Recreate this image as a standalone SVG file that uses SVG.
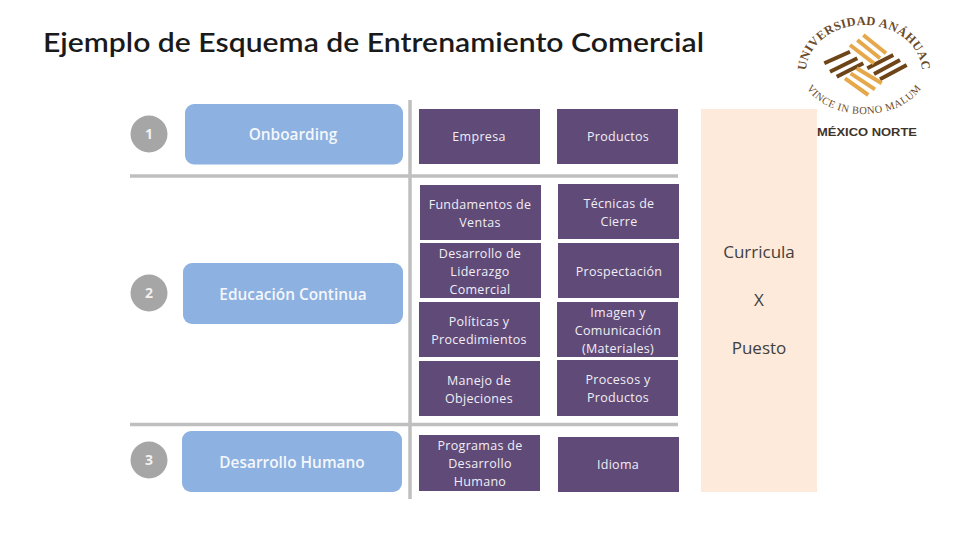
<svg xmlns="http://www.w3.org/2000/svg" width="960" height="540" viewBox="0 0 960 540">
<style>
text{font-family:"Open Sans","Liberation Sans",sans-serif}
.t{font-size:12.5px;fill:#f1eef5;text-anchor:middle;letter-spacing:.3px}
.b{font-size:15.400px;font-weight:600;fill:#f4f7fb;text-anchor:middle}
.n{font-size:14px;font-weight:700;fill:#f2f2f2;text-anchor:middle}
.p{fill:#5f4a78}.bl{fill:#8db1e0}.c{fill:#a6a6a6}
.l{stroke:#bfbfbf;stroke-width:3.500;fill:none}
.cu{font-size:17px;fill:#404040;text-anchor:middle}
.ring{font-family:"Liberation Serif",serif;fill:#6b4a2a;text-anchor:middle}
.br{stroke:#6e4518;stroke-width:4;fill:none}
.go{stroke:#e5a94b;stroke-width:4;fill:none}
</style>
<defs>
<path id="top" d="M806 72A58 47 0 1 1 922 72"/>
<path id="bot" d="M801 70A63 44 0 0 0 927 70"/>
</defs>
<text x="43" y="52" style="font-family:'Lato','Open Sans',sans-serif;font-size:27px;font-weight:600;fill:#1a1a1a" textLength="661" lengthAdjust="spacingAndGlyphs">Ejemplo de Esquema de Entrenamiento Comercial</text>
<g id="logo">
<text class="ring" font-size="12.500" font-weight="700" letter-spacing="0.4"><textPath href="#top" startOffset="50%">UNIVERSIDAD ANÁHUAC</textPath></text>
<text class="ring" font-size="10.500" letter-spacing="0.5"><textPath href="#bot" startOffset="50%">VINCE IN BONO MALUM</textPath></text>
<g class="emblem">
<path class="br" d="M824.300 63.300L850 51.700M830 71.700L857.300 58.300M836.700 76.700L863.300 63.300M867.300 68.300L893.300 55M874 74L900 60M880 79.300L906.700 65"/>
<path class="go" d="M863.300 35L886 53.300M857.300 40L880 58.300M850 45L874 63.300M856.700 68.300L881.700 83.300M850.700 73.300L875 89.300M845 78.300L868.300 95"/>
</g>
<text x="817" y="135.500" style="font-family:'Liberation Sans',sans-serif;font-size:11.500px;font-weight:700;fill:#3f3428" textLength="100" lengthAdjust="spacingAndGlyphs">MÉXICO NORTE</text>
</g>
<g id="connectors">
<path class="l" d="M410 100V499"/>
<path class="l" d="M130 176H678"/>
<path class="l" d="M130 424.500H678"/>
</g>
<g id="n1"><circle class="c" cx="149" cy="134" r="18.500"/><text class="n" x="149" y="139">1</text></g>
<g id="n2"><circle class="c" cx="149" cy="293" r="18.500"/><text class="n" x="149" y="298">2</text></g>
<g id="n3"><circle class="c" cx="149" cy="460" r="18.500"/><text class="n" x="149" y="465">3</text></g>
<g id="onboarding"><rect class="bl" x="185" y="104" width="218" height="60.500" rx="9"/><text class="b" x="293" y="139.500">Onboarding</text></g>
<g id="educacion"><rect class="bl" x="183" y="263" width="220" height="61" rx="9"/><text class="b" x="293" y="300">Educación Continua</text></g>
<g id="desarrollo"><rect class="bl" x="182" y="431" width="220" height="61" rx="9"/><text class="b" x="292" y="468">Desarrollo Humano</text></g>
<g id="empresa"><rect class="p" x="419" y="109" width="121" height="55"/><text class="t" x="479" y="141">Empresa</text></g>
<g id="productos"><rect class="p" x="557" y="109" width="121" height="55"/><text class="t" x="618" y="141">Productos</text></g>
<g id="fundamentos"><rect class="p" x="420" y="185" width="121" height="55"/><text class="t" x="480" y="209">Fundamentos de</text><text class="t" x="480" y="227">Ventas</text></g>
<g id="tecnicas"><rect class="p" x="558" y="184" width="121" height="55"/><text class="t" x="619" y="208">Técnicas de</text><text class="t" x="619" y="226">Cierre</text></g>
<g id="liderazgo"><rect class="p" x="420" y="243" width="121" height="55"/><text class="t" x="480" y="258">Desarrollo de</text><text class="t" x="480" y="276">Liderazgo</text><text class="t" x="480" y="294">Comercial</text></g>
<g id="prospectacion"><rect class="p" x="558" y="243" width="121" height="55"/><text class="t" x="619" y="276">Prospectación</text></g>
<g id="politicas"><rect class="p" x="419" y="302" width="121" height="55"/><text class="t" x="479" y="326">Políticas y</text><text class="t" x="479" y="344">Procedimientos</text></g>
<g id="imagen"><rect class="p" x="557" y="302" width="121" height="55"/><text class="t" x="618" y="317">Imagen y</text><text class="t" x="618" y="335">Comunicación</text><text class="t" x="618" y="353">(Materiales)</text></g>
<g id="manejo"><rect class="p" x="419" y="361" width="121" height="55"/><text class="t" x="479" y="385">Manejo de</text><text class="t" x="479" y="403">Objeciones</text></g>
<g id="procesos"><rect class="p" x="557" y="360" width="121" height="56"/><text class="t" x="618" y="384">Procesos y</text><text class="t" x="618" y="402">Productos</text></g>
<g id="programas"><rect class="p" x="419" y="435" width="121" height="56"/><text class="t" x="480" y="450">Programas de</text><text class="t" x="480" y="468">Desarrollo</text><text class="t" x="480" y="486">Humano</text></g>
<g id="idioma"><rect class="p" x="558" y="437" width="121" height="55"/><text class="t" x="618" y="469">Idioma</text></g>
<g id="curricula"><rect x="701" y="109" width="116" height="383" fill="#fdeadb"/><text class="cu" x="759" y="258">Curricula</text><text class="cu" x="759" y="306">X</text><text class="cu" x="759" y="354">Puesto</text></g>
</svg>
